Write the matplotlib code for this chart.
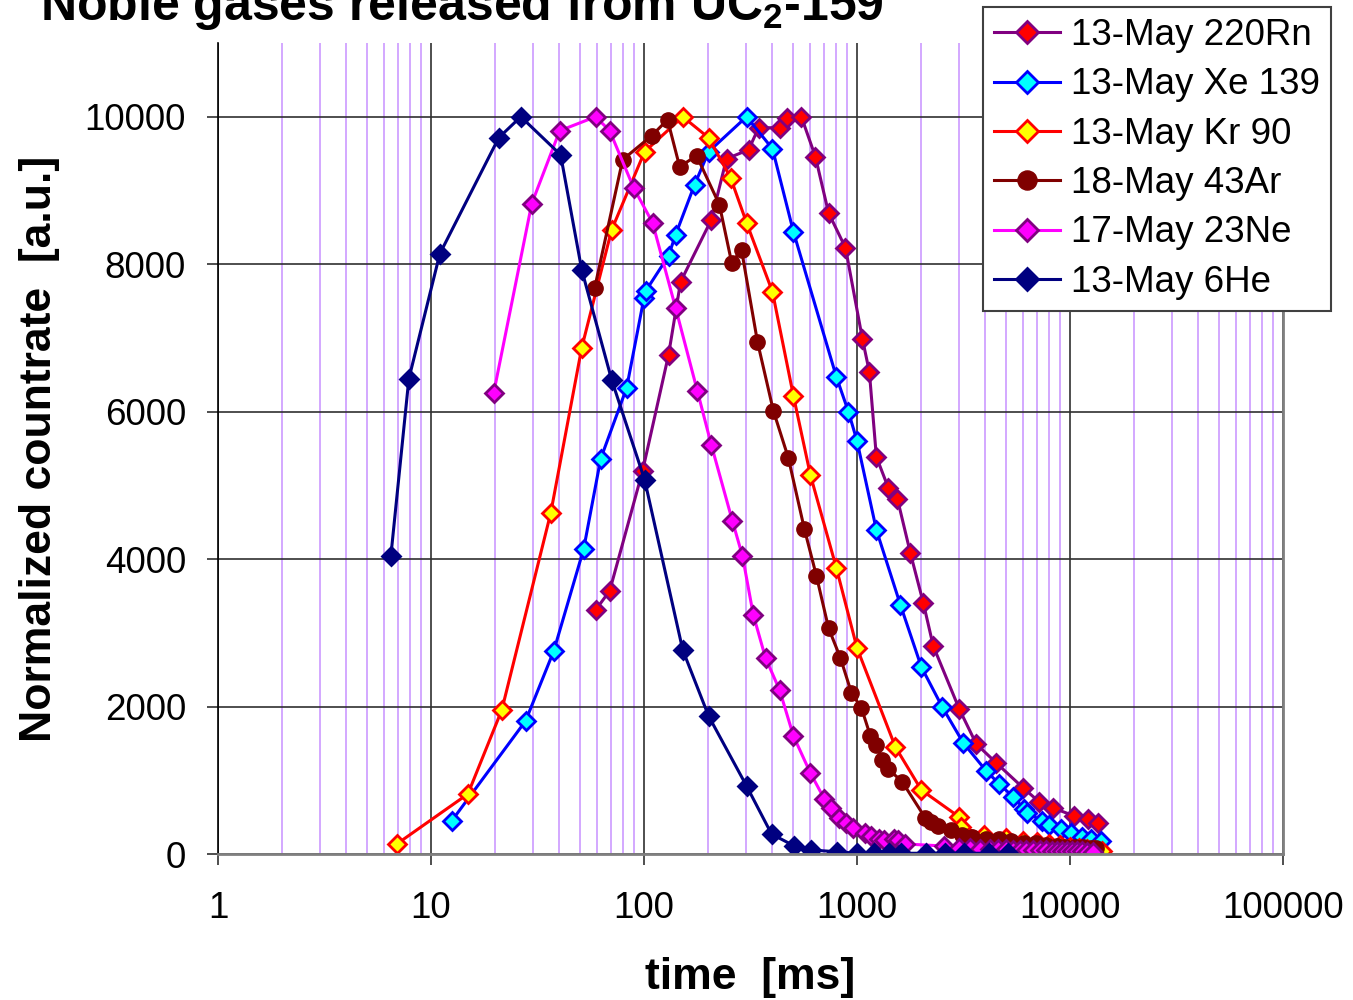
import matplotlib
matplotlib.use("Agg")
import matplotlib.pyplot as plt
from matplotlib.ticker import FixedLocator, NullFormatter

plt.rcParams['font.family'] = ['Liberation Sans', 'DejaVu Sans']
plt.rcParams['mathtext.default'] = 'regular'

# ---- data (time in ms, normalized countrate) ----
rn_t = [59.3, 69, 98.5, 130.4, 148.5, 207, 244, 310, 345, 433, 467, 548, 638, 735, 883,
        1060, 1143, 1233, 1403, 1548, 1780, 2048, 2280, 3020, 3630, 4508, 6030, 7175,
        8340, 10470, 12170, 13560]
rn_v = [3311, 3569, 5197, 6771, 7761, 8602, 9430, 9552, 9851, 9851, 9986, 10000, 9457,
        8697, 8222, 6988, 6540, 5387, 4966, 4817, 4084, 3406, 2822, 1967, 1493, 1235,
        896, 706, 624, 516, 475, 421]

xe_t = [12.5, 27.8, 37.7, 52.1, 62.6, 82.9, 100, 102, 130.4, 140.7, 172.7, 201, 303, 401,
        503, 800, 912, 1000, 1233, 1599, 2005, 2512, 3156, 4045, 4653, 5417, 6100, 6300,
        7410, 7980, 9100, 10130, 11400, 12500, 14000]
xe_v = [448, 1805, 2754, 4138, 5360, 6323, 7544, 7639, 8114, 8399, 9077, 9525, 10000,
        9566, 8440, 6472, 5997, 5604, 4396, 3379, 2537, 1995, 1506, 1126, 950, 773, 611,
        556, 448, 393, 339, 285, 231, 204, 176]

kr_t = [6.91, 14.9, 21.5, 36.5, 51, 70.5, 100.6, 152, 201, 255, 303, 401, 503, 604, 800,
        1000, 1514, 2005, 3020, 3080, 3950, 5000, 6000, 7000, 8000, 9000, 10000, 11000,
        12000, 13000, 14150]
kr_v = [136, 814, 1954, 4627, 6866, 8467, 9525, 10000, 9715, 9172, 8562, 7625, 6214,
        5142, 3880, 2795, 1452, 868, 502, 366, 258, 217, 180, 160, 140, 122, 100, 85,
        70, 60, 40]

ar_t = [58.7, 79.4, 108.6, 129, 147, 176.6, 226, 258, 287, 341, 405, 476, 566, 645, 735,
        836, 942, 1049, 1156, 1233, 1315, 1403, 1633, 2093, 2234, 2410, 2771, 3127, 3476,
        4045, 4653, 5300, 6100, 6940, 7730, 8650, 9500, 10500, 11500, 12500, 13300]
ar_v = [7680, 9417, 9742, 9960, 9322, 9471, 8806, 8019, 8195, 6947, 6011, 5373, 4410,
        3772, 3066, 2659, 2185, 1981, 1601, 1479, 1275, 1153, 977, 488, 434, 380, 326,
        258, 231, 204, 204, 176, 149, 149, 122, 108, 100, 95, 90, 80, 75]

ne_t = [19.7, 29.7, 40.2, 59.3, 69, 89.4, 109.7, 140.7, 178, 207, 260, 290, 326, 372,
        433, 503, 604, 703, 759, 819, 892, 962, 1094, 1167, 1273, 1343, 1497, 1563, 1686,
        2570, 3020, 3400, 3800, 4200, 4600, 5000, 5400, 5800, 6200, 6700, 7200, 7700,
        8200, 8700, 9200, 9700, 10200, 10800, 11400, 12000, 12800]
ne_v = [6255, 8820, 9810, 10000, 9810, 9036, 8562, 7408, 6282, 5550, 4518, 4043, 3243,
        2659, 2225, 1601, 1099, 746, 624, 488, 420, 353, 285, 244, 204, 190, 204, 190,
        136, 108, 80, 75, 70, 68, 65, 62, 60, 58, 55, 52, 50, 48, 46, 44, 42, 40, 38, 36,
        34, 32, 30]

he_t = [6.48, 7.87, 11.0, 20.8, 26.4, 40.6, 51, 70.5, 100.7, 152, 201, 303, 397, 508,
        611, 809, 1000, 1207, 1419, 1616, 2117, 2601, 3190, 4178, 5130]
he_v = [4043, 6445, 8141, 9715, 10000, 9484, 7924, 6431, 5075, 2768, 1872, 923, 271,
        108, 54, 30, 10, 10, 10, 10, 10, 10, 10, 10, 10]

labels = ['13-May 220Rn', '13-May Xe 139', '13-May Kr 90', '18-May 43Ar',
          '17-May 23Ne', '13-May 6He']

fig = plt.figure(figsize=(13.53, 10), dpi=100)
ax = fig.add_axes([218 / 1353, 1 - 854 / 1000, (1283 - 218) / 1353, (854 - 43) / 1000])

dm = 9
lw = 2.2
ax.plot(rn_t, rn_v, color='#800080', lw=lw, marker='D', ms=dm, mfc='#FF0000', mec='#800080', mew=2, label=labels[0])
ax.plot(xe_t, xe_v, color='#0000FF', lw=lw, marker='D', ms=dm, mfc='#00FFFF', mec='#0000FF', mew=2, label=labels[1])
ax.plot(kr_t, kr_v, color='#FF0000', lw=lw, marker='D', ms=dm, mfc='#FFFF00', mec='#FF0000', mew=2, label=labels[2])
ax.plot(ar_t, ar_v, color='#800000', lw=lw, marker='o', ms=11, mfc='#800000', mec='#800000', mew=1, label=labels[3])
ax.plot(ne_t, ne_v, color='#FF00FF', lw=lw, marker='D', ms=dm, mfc='#FF00FF', mec='#800080', mew=2, label=labels[4])
ax.plot(he_t, he_v, color='#000080', lw=lw, marker='D', ms=dm, mfc='#000080', mec='#000080', mew=2, label=labels[5])

ax.set_xscale('log')
ax.set_xlim(1, 100000)
ax.set_ylim(0, 11000)
ax.set_yticks([0, 2000, 4000, 6000, 8000, 10000])
ax.set_xticks([1, 10, 100, 1000, 10000, 100000])
ax.set_xticklabels(['1', '10', '100', '1000', '10000', '100000'])
ax.xaxis.set_minor_locator(FixedLocator([m * 10 ** d for d in range(5) for m in range(2, 10)]))
ax.xaxis.set_minor_formatter(NullFormatter())

ax.set_axisbelow(True)
ax.grid(True, which='major', axis='both', color='#303030', lw=1.2)
ax.grid(True, which='minor', axis='x', color='#CC99FF', lw=1.2)

ax.tick_params(axis='both', which='major', direction='out', length=8, width=1.2,
               color='#303030', labelsize=26.5)
ax.tick_params(axis='y', pad=15)
ax.tick_params(axis='x', pad=19)
ax.tick_params(axis='x', which='minor', length=0)

ax.spines['top'].set_visible(False)
ax.spines['left'].set_color('#000000')
ax.spines['left'].set_linewidth(1.2)
for s in ['bottom', 'right']:
    ax.spines[s].set_color('#808080')
    ax.spines[s].set_linewidth(2)

ax.set_xlabel('time  [ms]', fontsize=32, fontweight='bold', labelpad=22)
ax.set_ylabel('Normalized countrate  [a.u.]', fontsize=32, fontweight='bold', labelpad=18)

fig.text(40 / 1353, 0.98, 'Noble gases released from UC$_2$-159', fontsize=36,
         fontweight='bold', va='baseline', ha='left')

leg = ax.legend(loc='upper right', bbox_to_anchor=(1331 / 1353, 1 - 7 / 1000),
                bbox_transform=fig.transFigure, borderaxespad=0, fontsize=26.5,
                fancybox=False, framealpha=1, edgecolor='#404040', markerscale=1.25,
                handlelength=1.8, handletextpad=0.3, labelspacing=0.39, borderpad=0.3)
leg.get_frame().set_linewidth(1.5)

fig.savefig('out.png', dpi=100)
